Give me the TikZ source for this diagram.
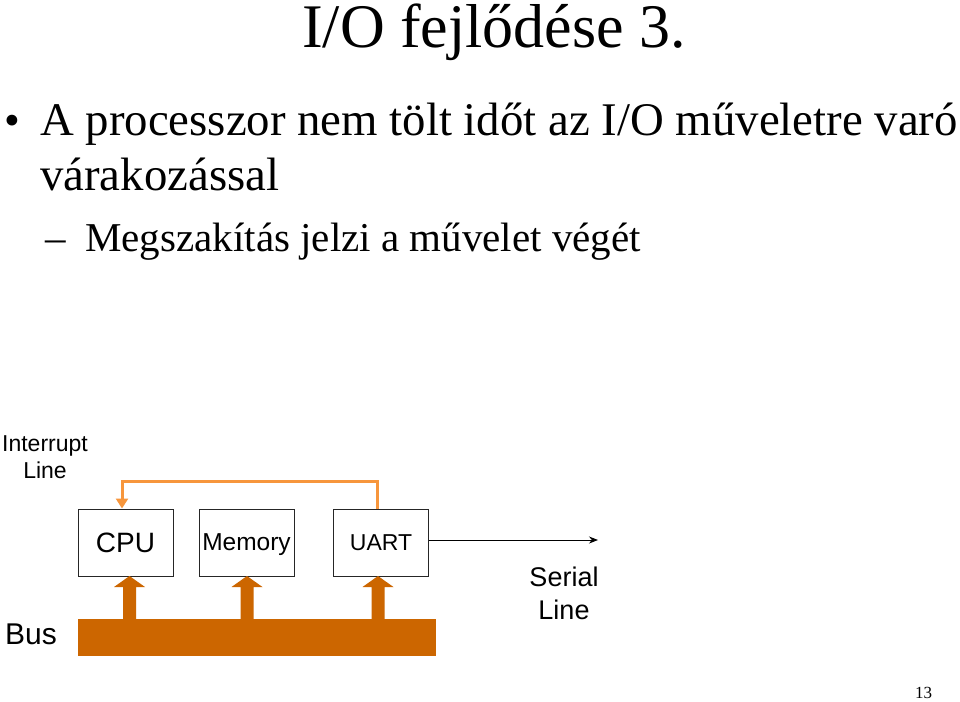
\documentclass[tikz,border=0pt]{standalone}
\usepackage{fontspec}
\setmainfont{Liberation Serif}
\newfontfamily\arialf{Liberation Sans}
\usetikzlibrary{arrows.meta}
\definecolor{busor}{RGB}{204,102,0}
\definecolor{intor}{RGB}{247,150,60}
\tikzset{
  txt/.style={inner sep=0pt, anchor=base west},
  dev/.style={draw=black!85, line width=1pt, fill=white, minimum width=95pt, minimum height=67pt, inner sep=0pt, text depth=0pt},
  lbl/.style={inner sep=0pt, align=center, font=\arialf\fontsize{23}{27}\selectfont},
}
\newcommand{\uparr}[3]{% x center, tip y, base y
  \fill[busor] (#1-6.5,#3) -- (#1-6.5,#2+11) -- (#1-15.5,#2+11) -- (#1,#2) -- (#1+15.5,#2+11) -- (#1+6.5,#2+11) -- (#1+6.5,#3) -- cycle;}
\begin{document}
\begin{tikzpicture}[x=1pt,y=-1pt]
\useasboundingbox (0,0) rectangle (960,701);
\fill[white] (0,0) rectangle (960,701);
% texts
\node[txt, font=\fontsize{62}{62}\selectfont] (title) at (302,48) {I/O fejlődése 3.};
\node[txt, font=\fontsize{45}{45}\selectfont] (bul) at (4,135) {•};
\node[txt, font=\fontsize{46.8}{46.8}\selectfont] (l1) at (40,135) {A processzor nem tölt időt az I/O műveletre varó};
\node[txt, font=\fontsize{46.8}{46.8}\selectfont] (l2) at (40,190) {várakozással};
\node[txt, font=\fontsize{41}{41}\selectfont] (dash) at (45,251) {–};
\node[txt, font=\fontsize{41}{41}\selectfont] (l3) at (85,251) {Megszakítás jelzi a művelet végét};
\node[txt, font=\fontsize{17}{17}\selectfont] (pg) at (915,698) {13};
% diagram
\fill[busor] (78,619) rectangle (436,656);
\node[dev, font=\arialf\fontsize{28}{28}\selectfont] (cpu) at (125.5,542.5) {CPU};
\node[dev, font=\arialf\fontsize{24.5}{24.5}\selectfont] (mem) at (246.5,542.5) {Memory};
\node[dev, font=\arialf\fontsize{23}{23}\selectfont] (uart) at (381,542.5) {UART};
\uparr{129.5}{576}{620}
\uparr{247}{576}{620}
\uparr{378}{576}{620}
\draw[intor, line width=3pt, -{Triangle[length=10pt,width=12pt]}] (uart.north -| 377,0) -- (377,481) -- (122,481) -- (cpu.north -| 122,0);
\coordinate (se) at (598,540);
\draw[black, line width=1pt, -{Stealth[length=9pt,width=7pt]}] (uart.east |- 0,540) -- (se);
\node[lbl] (il) at (45,457) {Interrupt\\Line};
\node[lbl, font=\arialf\fontsize{30}{30}\selectfont] (bl) at (31,634) {Bus};
\node[lbl, font=\arialf\fontsize{27}{33}\selectfont] (sl) at (564,593) {Serial\\Line};
\end{tikzpicture}
\end{document}
